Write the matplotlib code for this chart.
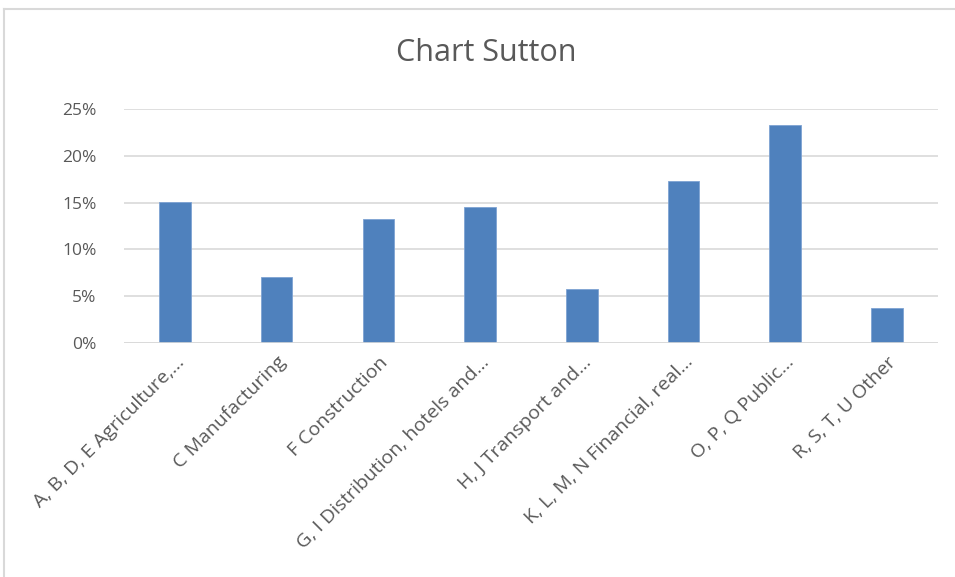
import numpy as np
import matplotlib.pyplot as plt
from matplotlib.ticker import PercentFormatter
from matplotlib.lines import Line2D

# Datos
categorias = ["A, B, D, E Agriculture,...", "C Manufacturing", "F Construction",
              "G, I Distribution, hotels and...", "H, J Transport and...",
              "K, L, M, N Financial, real...", "O, P, Q Public...", "R, S, T, U Other"]
valores = [15.06, 7.10, 13.28, 14.49, 5.75, 17.26, 23.23, 3.76]
ticks_y = [0, 5, 10, 15, 20, 25]

plt.rcParams['font.family'] = ['Open Sans', 'DejaVu Sans']

fig = plt.figure(figsize=(9.55, 5.77), dpi=100)
ax = fig.add_axes([0.130, 0.405, 0.852, 0.4065])

x = np.arange(len(categorias))
ax.bar(x, valores, width=0.31, color='#4F81BD', edgecolor='#7EA3D3', linewidth=0.6, zorder=3)

ax.set_xlim(-0.5, len(categorias) - 0.5)
ax.set_ylim(0, 25)
ax.set_yticks(ticks_y)
ax.yaxis.set_major_formatter(PercentFormatter(decimals=0))
ax.grid(axis='y', color='#D9D9D9', linewidth=1.2, zorder=0)
for s in ['top', 'right', 'left', 'bottom']:
    ax.spines[s].set_visible(False)
ax.axhline(0, color='#D9D9D9', linewidth=1.2, zorder=4)

ax.set_xticks(x)
ax.set_xticklabels(categorias, rotation=45, ha='right', rotation_mode='anchor',
                   fontsize=14, color='#595959')
ax.tick_params(axis='x', length=0, pad=7)
ax.tick_params(axis='y', length=0, pad=20, labelsize=12.5, labelcolor='#595959')

fig.text(0.509, 0.908, "Chart Sutton", ha='center', va='center', fontsize=22, color='#595959')

# Borde del area del grafico
fig.add_artist(Line2D([0.004, 0.004], [0, 0.985], color='#D9D9D9', linewidth=1.5))
fig.add_artist(Line2D([0.004, 1], [0.985, 0.985], color='#D9D9D9', linewidth=1.5))

fig.savefig("out.png", dpi=100)
